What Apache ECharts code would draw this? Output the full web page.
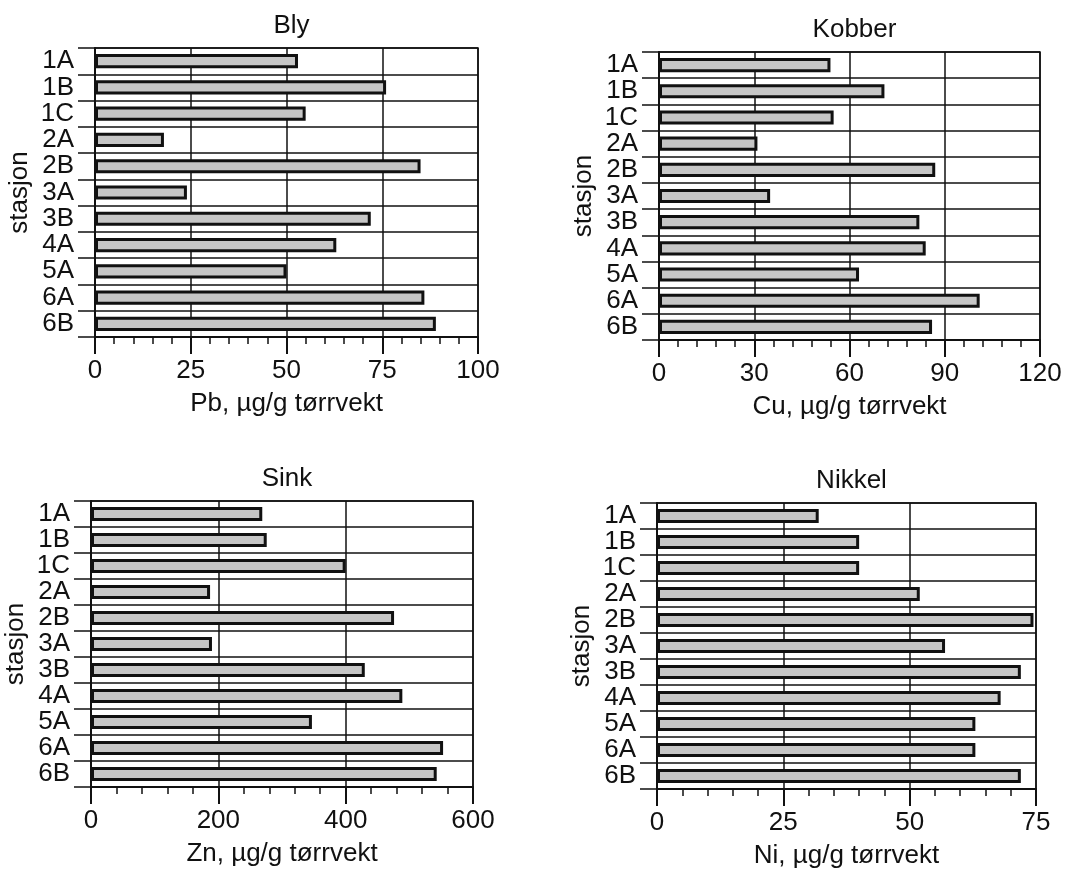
<!DOCTYPE html>
<html>
<head>
<meta charset="utf-8">
<script src="https://cdn.jsdelivr.net/npm/echarts@6/dist/echarts.min.js"></script>
<style>
  html, body { margin: 0; padding: 0; background: #fff; }
  #chart { width: 1068px; height: 876px; }
</style>
</head>
<body>
<div id="chart"></div>
<script>
// stasjoner (same order top to bottom in all four panels)
let stations = ['1A', '1B', '1C', '2A', '2B', '3A', '3B', '4A', '5A', '6A', '6B'];

// µg/g tørrvekt
let pbValues = [53, 76, 55, 18, 85, 24, 72, 63, 50, 86, 89];
let cuValues = [54, 71, 55, 31, 87, 35, 82, 84, 63, 101, 86];
let znValues = [269, 276, 400, 187, 476, 190, 430, 489, 347, 553, 543];
let niValues = [32, 40, 40, 52, 74.5, 57, 72, 68, 63, 63, 72];

let titles = ['Bly', 'Kobber', 'Sink', 'Nikkel'];
let axisNames = ['Pb, µg/g tørrvekt', 'Cu, µg/g tørrvekt', 'Zn, µg/g tørrvekt', 'Ni, µg/g tørrvekt'];
let axisMax = [100, 120, 600, 75];
let axisStep = [25, 30, 200, 25];
let allValues = [pbValues, cuValues, znValues, niValues];

let font = 'Liberation Sans, Arial, sans-serif';
let fontSize = 26;
let ink = '#111';

// plot boxes of the four panels
let grids = [
    { left: 95, top: 48, width: 383, height: 289 },
    { left: 659, top: 52, width: 381, height: 288 },
    { left: 91, top: 501, width: 382, height: 286 },
    { left: 657, top: 503, width: 379, height: 286 }
];

let myChart = echarts.init(document.getElementById('chart'), null, { renderer: 'canvas' });

let option = {
    backgroundColor: '#fff',
    animation: false,
    title: grids.map((g, i) => ({
        text: titles[i],
        left: g.left + g.width / 2,
        top: g.top - 40,
        textAlign: 'center',
        textStyle: { fontFamily: font, fontSize: fontSize, fontWeight: 'normal', color: ink }
    })),
    grid: grids.map(g => Object.assign({
        show: true,
        borderColor: ink,
        borderWidth: 1.5,
        backgroundColor: 'transparent'
    }, g)),
    xAxis: grids.map((g, i) => ({
        type: 'value',
        gridIndex: i,
        min: 0,
        max: axisMax[i],
        interval: axisStep[i],
        name: axisNames[i],
        nameLocation: 'middle',
        nameGap: 54,
        nameTextStyle: { fontFamily: font, fontSize: fontSize, color: ink },
        axisLine: { show: true, lineStyle: { color: ink, width: 2 } },
        axisTick: { show: true, length: 17, lineStyle: { color: ink, width: 2 } },
        minorTick: { show: true, splitNumber: 5, length: 7, lineStyle: { color: ink, width: 1.5 } },
        axisLabel: { fontFamily: font, fontSize: fontSize, color: ink, margin: 21 },
        splitLine: { show: true, lineStyle: { color: ink, width: 1.5 } }
    })),
    yAxis: grids.map((g, i) => ({
        type: 'category',
        gridIndex: i,
        inverse: true,
        data: stations,
        name: 'stasjon',
        nameLocation: 'middle',
        nameGap: 62,
        nameTextStyle: { fontFamily: font, fontSize: fontSize, color: ink },
        axisLine: { show: true, lineStyle: { color: ink, width: 2 } },
        axisTick: { show: true, length: 17, lineStyle: { color: ink, width: 1.5 } },
        axisLabel: { fontFamily: font, fontSize: fontSize, color: ink, margin: 21, interval: 0 },
        splitLine: { show: true, lineStyle: { color: ink, width: 1.5 } }
    })),
    series: allValues.map((vals, i) => ({
        type: 'bar',
        xAxisIndex: i,
        yAxisIndex: i,
        data: vals,
        barWidth: '54%',
        itemStyle: {
            color: '#c6c6c6',
            borderColor: ink,
            borderWidth: 3
        }
    }))
};

myChart.setOption(option);
</script>
</body>
</html>
